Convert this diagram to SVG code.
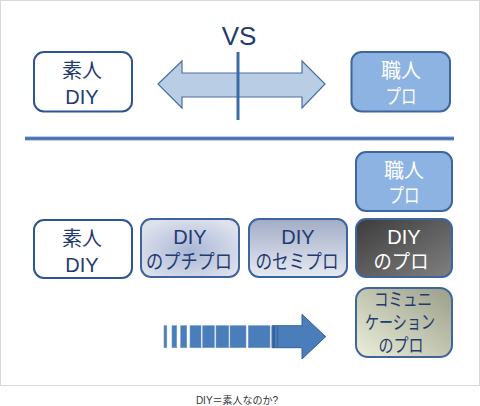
<svg xmlns="http://www.w3.org/2000/svg" width="480" height="406" viewBox="0 0 480 406">
<style>
.t{font-family:"Liberation Sans","Noto Sans CJK JP",sans-serif;font-size:20px;text-anchor:middle}
.tj{font-family:"Noto Sans CJK JP","Liberation Sans",sans-serif;font-size:18.5px;text-anchor:middle}
.dk{fill:#1F3B70}
.wh{fill:#FFFFFF}
.box{stroke-width:2}
.bd{stroke:#2E5593}
.bl{stroke:#3F659E}
.stripe{fill:#4A7EBB;stroke:#6F97C8;stroke-width:0.6}
</style>
<defs>
<radialGradient id="gPuchi" cx="0.5" cy="0.55" r="0.6">
<stop offset="0" stop-color="#A9B6D6"/>
<stop offset="1" stop-color="#DEE2ED"/>
</radialGradient>
<linearGradient id="gSemi" x1="0" y1="0" x2="0" y2="1">
<stop offset="0" stop-color="#A2ACC6"/>
<stop offset="1" stop-color="#E7EAF2"/>
</linearGradient>
<linearGradient id="gPro" x1="0" y1="0" x2="1" y2="1">
<stop offset="0" stop-color="#3C3C3C"/>
<stop offset="1" stop-color="#808080"/>
</linearGradient>
<linearGradient id="gComm" x1="1" y1="0" x2="0" y2="1">
<stop offset="0" stop-color="#9A9D88"/>
<stop offset="1" stop-color="#ECEFDA"/>
</linearGradient>
</defs>

<rect x="0.5" y="0.5" width="479" height="385" fill="#FFFFFF" stroke="#D9D9D9" stroke-width="1"/>

<g id="connectors">
<polygon points="158,84 182,61 182,73 302,73 302,61 325,84 302,108 302,97 182,97 182,108" fill="#B9CDE5" stroke="#4A6FA5" stroke-width="1.2"/>
<line x1="238" y1="52" x2="238" y2="120" stroke="#3D6AA8" stroke-width="3"/>
<line x1="25" y1="138.5" x2="454" y2="138.5" stroke="#A9BDD9" stroke-width="4.5"/>
<line x1="25" y1="138.5" x2="454" y2="138.5" stroke="#3F6DAF" stroke-width="2.5"/>
<g id="progress-arrow">
<rect class="stripe" x="164" y="325.7" width="2.8" height="22"/>
<rect class="stripe" x="172" y="325.7" width="4.7" height="22"/>
<rect class="stripe" x="180.7" y="325.7" width="6" height="22"/>
<rect class="stripe" x="190" y="325.7" width="11" height="22"/>
<rect class="stripe" x="202.7" y="325.7" width="11.6" height="22"/>
<rect class="stripe" x="216" y="325.7" width="12.7" height="22"/>
<rect class="stripe" x="230" y="325.7" width="16" height="22"/>
<rect class="stripe" x="248.3" y="325.7" width="21.7" height="22"/>
<polygon points="272,325.7 302,325.7 302,314.3 325.7,336.7 302,359 302,347.7 272,347.7" fill="#4A7EBB" stroke="#375F94" stroke-width="1"/>
<line x1="274" y1="326" x2="274" y2="347.5" stroke="#2F5A8F" stroke-width="1.5"/>
<line x1="277.5" y1="326" x2="277.5" y2="347.5" stroke="#3A669E" stroke-width="1.2"/>
</g>
</g>

<text x="239" y="45" font-family="Liberation Sans, sans-serif" font-size="26" fill="#1F3B70" text-anchor="middle">VS</text>

<g id="top-amateur">
<rect class="box bd" x="34" y="52" width="98" height="59.5" rx="10" fill="#FFFFFF"/>
<text class="t dk" x="82" y="78">素人</text>
<text class="t dk" x="82" y="104" font-size="21">DIY</text>
</g>

<g id="top-pro">
<rect class="box bl" x="351.5" y="52" width="98.5" height="59.5" rx="10" fill="#8DB3E2"/>
<text class="t wh" x="401" y="78">職人</text>
<text class="t wh" x="401" y="104" textLength="31" lengthAdjust="spacingAndGlyphs">プロ</text>
</g>

<g id="pro-craftsman">
<rect class="box bl" x="356" y="152" width="96" height="59" rx="10" fill="#8DB3E2"/>
<text class="t wh" x="404" y="178">職人</text>
<text class="t wh" x="404" y="203" textLength="31" lengthAdjust="spacingAndGlyphs">プロ</text>
</g>

<g id="amateur">
<rect class="box bd" x="34" y="220" width="98" height="58" rx="10" fill="#FFFFFF"/>
<text class="t dk" x="82" y="245.5">素人</text>
<text class="t dk" x="82" y="271.5" font-size="21">DIY</text>
</g>

<g id="petit-pro">
<rect class="box bl" x="141" y="219" width="98" height="58" rx="10" fill="url(#gPuchi)"/>
<text class="t dk" x="190" y="243.5" font-size="21">DIY</text>
<text class="t dk" x="189" y="269" textLength="86" lengthAdjust="spacingAndGlyphs">のプチプロ</text>
</g>

<g id="semi-pro">
<rect class="box bl" x="249" y="219" width="98" height="58" rx="10" fill="url(#gSemi)"/>
<text class="t dk" x="298" y="243.5" font-size="21">DIY</text>
<text class="t dk" x="297" y="269" textLength="83" lengthAdjust="spacingAndGlyphs">のセミプロ</text>
</g>

<g id="diy-pro">
<rect class="box bl" x="356" y="219" width="96" height="58" rx="10" fill="url(#gPro)"/>
<text class="t wh" x="404" y="243.5" font-size="21">DIY</text>
<text class="t wh" x="401" y="269" textLength="55" lengthAdjust="spacingAndGlyphs">のプロ</text>
</g>

<g id="comm-pro">
<rect class="box bl" x="356" y="288" width="96" height="69" rx="12" fill="url(#gComm)"/>
<text class="tj dk" x="403" y="306" textLength="58" lengthAdjust="spacingAndGlyphs">コミュニ</text>
<text class="tj dk" x="400" y="329" textLength="70" lengthAdjust="spacingAndGlyphs">ケーション</text>
<text class="tj dk" x="401" y="351.5" textLength="45" lengthAdjust="spacingAndGlyphs">のプロ</text>
</g>

<text x="237" y="404" font-family="Liberation Sans, Noto Sans CJK JP, sans-serif" font-size="10" fill="#333333" text-anchor="middle">DIY＝素人なのか?</text>
</svg>
